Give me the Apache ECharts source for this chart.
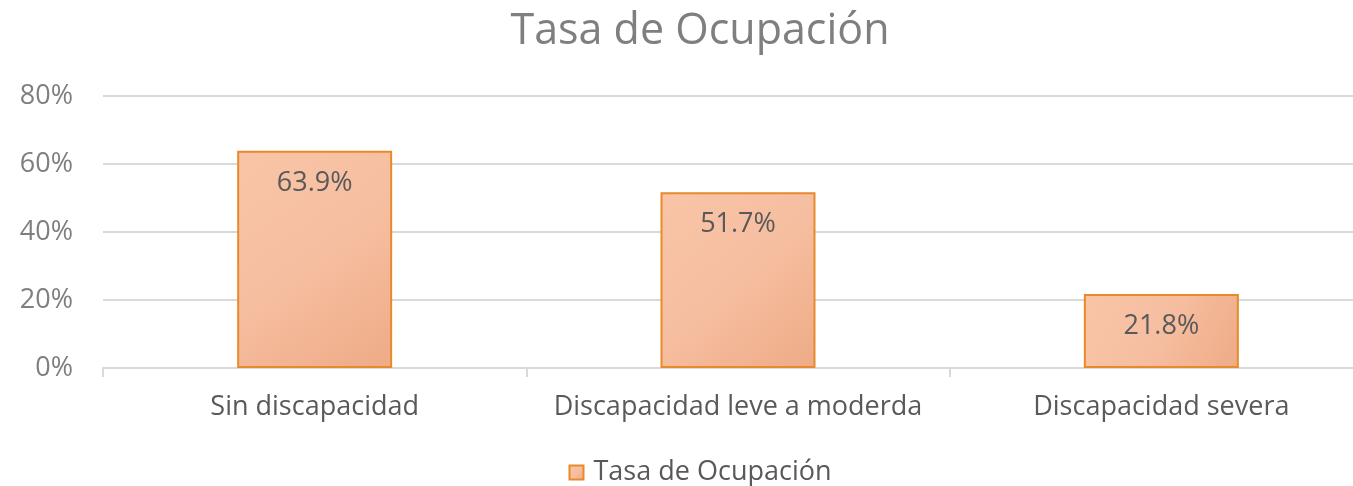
<!DOCTYPE html>
<html>
<head>
<meta charset="utf-8">
<script src="https://cdn.jsdelivr.net/npm/echarts@6/dist/echarts.min.js"></script>
<style>
  html, body { margin: 0; padding: 0; background: #fff; overflow: hidden; }
  #chart { width: 1400px; height: 486px; }
</style>
</head>
<body>
<div id="chart"></div>
<script>
const categories = ['Sin discapacidad', 'Discapacidad leve a moderda', 'Discapacidad severa']
const tasa = [63.9, 51.7, 21.8]
const seriesName = 'Tasa de Ocupación'

const font = '"Open Sans", "Noto Sans", sans-serif'

// the original chart is a bit wider than the window; its right part is cropped
let myChart = echarts.init(document.getElementById('chart'))
myChart.setOption({
  animation: false,
  title: {
    text: 'Tasa de Ocupación',
    left: 'center',
    top: 5,
    textStyle: {
      color: '#7f7f7f',
      fontFamily: font,
      fontSize: 43,
      fontWeight: 'normal'
    }
  },
  legend: {
    data: [seriesName],
    left: 'center',
    top: 454,
    icon: 'rect',
    itemWidth: 14,
    itemHeight: 14,
    itemGap: 6,
    textStyle: {
      color: '#595959',
      fontFamily: font,
      fontSize: 27,
      padding: [0, 0, 0, 5]
    }
  },
  grid: {
    left: 103,
    right: 27,
    top: 96,
    bottom: 118
  },
  xAxis: {
    type: 'category',
    data: categories,
    axisLabel: {
      interval: 0,
      color: '#595959',
      fontFamily: font,
      fontSize: 27,
      margin: 26
    },
    axisTick: {
      show: true,
      length: 9,
      lineStyle: { color: '#d9d9d9', width: 2 }
    },
    axisLine: {
      show: true,
      lineStyle: { color: '#d9d9d9', width: 2 }
    }
  },
  yAxis: {
    type: 'value',
    min: 0,
    max: 80,
    interval: 20,
    axisLabel: {
      color: '#7f7f7f',
      fontFamily: font,
      fontSize: 27,
      margin: 30,
      formatter: '{value}%'
    },
    axisTick: { show: false },
    axisLine: { show: false },
    splitLine: {
      show: true,
      lineStyle: { color: '#d9d9d9', width: 2 }
    }
  },
  series: [{
    name: seriesName,
    type: 'bar',
    barWidth: 155,
    data: tasa,
    itemStyle: {
      color: new echarts.graphic.LinearGradient(0, 0, 1, 1, [
        { offset: 0, color: '#f9c4a7' },
        { offset: 0.5, color: '#f6bea0' },
        { offset: 1, color: '#eeab86' }
      ]),
      borderColor: '#e8892b',
      borderWidth: 2
    },
    label: {
      show: true,
      position: 'insideTop',
      distance: 19,
      color: '#595959',
      fontFamily: font,
      fontSize: 27,
      formatter: (p) => p.value.toFixed(1) + '%'
    }
  }]
})
</script>
</body>
</html>
